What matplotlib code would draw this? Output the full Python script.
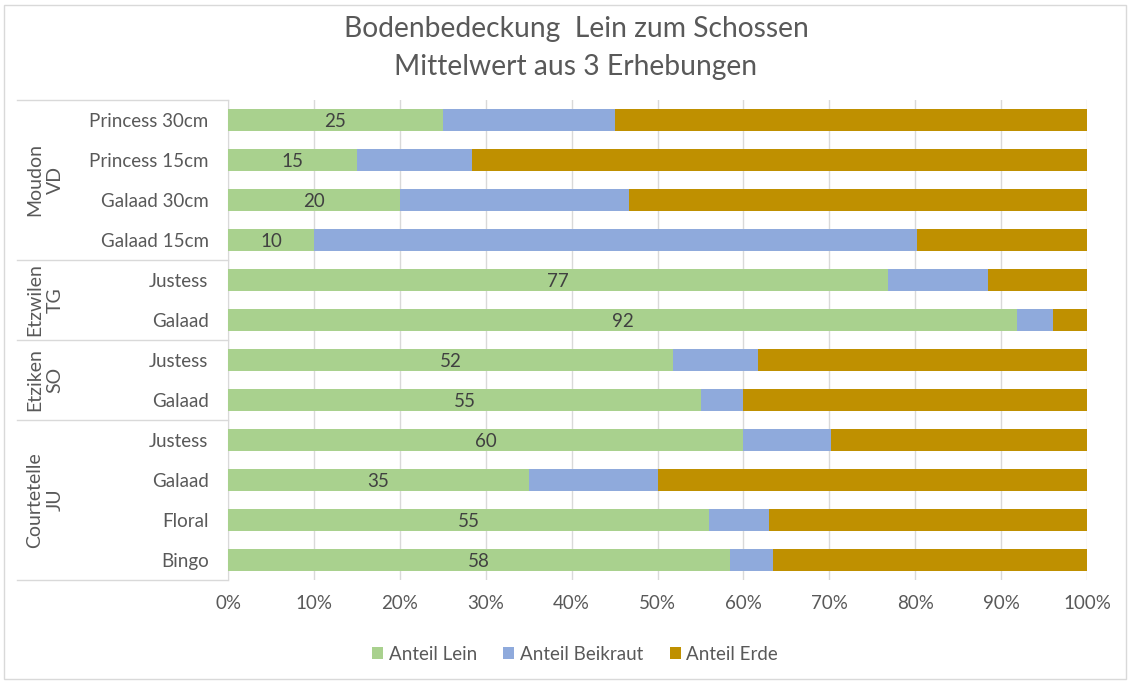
import numpy as np
import matplotlib
matplotlib.use("Agg")
import matplotlib.pyplot as plt
from matplotlib.patches import Rectangle

plt.rcParams['font.family'] = ['Lato', 'DejaVu Sans']

# categories, top to bottom
sorten = ["Princess 30cm", "Princess 15cm", "Galaad 30cm", "Galaad 15cm",
          "Justess", "Galaad",
          "Justess", "Galaad",
          "Justess", "Galaad", "Floral", "Bingo"]
gruppen = ["Moudon\nVD", "Etzwilen\nTG", "Etziken\nSO", "Courtetelle\nJU"]
gruppen_n = [4, 2, 2, 4]

# raw values (Excel 100% stacked -> normalised below)
lein = [25, 15, 20, 10, 76.8, 91.9, 51.8, 55.1, 60, 35, 55, 58.4]
beikraut = [20.1, 13.4, 26.7, 70.2, 11.7, 4.2, 9.9, 4.9, 10.2, 15.1, 6.8, 5.0]
erde = [54.9, 71.6, 53.3, 19.8, 11.5, 3.9, 38.3, 40.0, 29.8, 49.9, 36.4, 36.6]

serien = ["Anteil Lein", "Anteil Beikraut", "Anteil Erde"]
farben = ["#a9d18e", "#8faadc", "#bf9000"]

L = np.array(lein)
B = np.array(beikraut)
E = np.array(erde)
tot = L + B + E
pL = L / tot * 100
pB = B / tot * 100
pE = E / tot * 100

W, H = 1131, 683
fig = plt.figure(figsize=(W / 100, H / 100), dpi=100)
fig.patches.append(Rectangle((4 / W, 4 / H), 1 - 9 / W, 1 - 9 / H, transform=fig.transFigure,
                             fill=False, edgecolor="#d9d9d9", linewidth=1))

ax = fig.add_axes([228 / W, (H - 580) / H, (1087 - 228) / W, 480 / H])
y = np.arange(len(sorten))
h = 0.55
ax.barh(y, pL, height=h, color=farben[0], label=serien[0], zorder=3)
ax.barh(y, pB, left=pL, height=h, color=farben[1], label=serien[1], zorder=3)
ax.barh(y, pE, left=pL + pB, height=h, color=farben[2], label=serien[2], zorder=3)

for i in range(len(sorten)):
    ax.text(pL[i] / 2, y[i] + 0.04, "%.0f" % L[i], ha="center", va="center",
            fontsize=13.5, color="#404040", zorder=4)

ax.set_xlim(0, 100)
ax.set_ylim(len(sorten) - 0.5, -0.5)
ax.set_xticks(np.arange(0, 101, 10))
ax.set_xticklabels(["%d%%" % v for v in range(0, 101, 10)])
ax.set_yticks(y)
ax.set_yticklabels(sorten)
ax.tick_params(axis="both", length=0, labelsize=13.5, labelcolor="#595959")
ax.tick_params(axis="y", pad=14)
ax.tick_params(axis="x", pad=11)
ax.grid(axis="x", color="#d9d9d9", linewidth=1, zorder=0)
for s in ["top", "right", "bottom"]:
    ax.spines[s].set_visible(False)
ax.spines["left"].set_color("#d9d9d9")

# group separators and group labels
tr = ax.get_yaxis_transform()
x0 = (17 - 228) / (1087 - 228)
grenzen = [-0.5] + list(np.cumsum(gruppen_n) - 0.5)
for g in grenzen:
    ax.plot([x0, 0], [g, g], transform=tr, color="#d9d9d9", linewidth=1, clip_on=False)
for k, name in enumerate(gruppen):
    mitte = (grenzen[k] + grenzen[k + 1]) / 2
    ax.text((45 - 228) / (1087 - 228), mitte, name, transform=tr, rotation=90,
            ha="center", va="center", fontsize=14, color="#595959", linespacing=1.25)

fig.text(576 / W, 1 - 29 / H, "Bodenbedeckung  Lein zum Schossen", ha="center", va="center",
         fontsize=20.3, color="#595959")
fig.text(576 / W, 1 - 67 / H, "Mittelwert aus 3 Erhebungen", ha="center", va="center",
         fontsize=20.3, color="#595959")

fig.legend(loc="center", bbox_to_anchor=(575 / W, 1 - 654 / H), ncol=3, frameon=False,
           fontsize=13.5, labelcolor="#595959", handlelength=0.6, handleheight=0.6,
           handletextpad=0.3, columnspacing=1.4)

fig.savefig("out.png", dpi=100)
